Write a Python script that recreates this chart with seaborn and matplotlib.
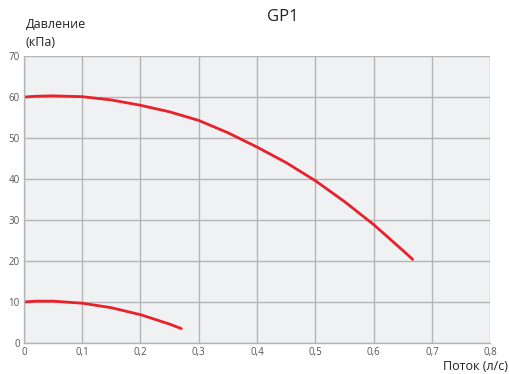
import matplotlib
matplotlib.use("Agg")
import matplotlib.pyplot as plt
import seaborn as sns
import pandas as pd

# curve data
flow_high = [0.0, 0.02, 0.05, 0.1, 0.15, 0.2, 0.25, 0.3, 0.35, 0.4, 0.45, 0.5, 0.55, 0.6, 0.65, 0.667]
press_high = [60.0, 60.2, 60.3, 60.1, 59.3, 58.0, 56.4, 54.3, 51.3, 47.8, 44.0, 39.6, 34.5, 28.9, 22.6, 20.4]
flow_low = [0.0, 0.02, 0.05, 0.1, 0.15, 0.2, 0.25, 0.27]
press_low = [10.0, 10.2, 10.2, 9.7, 8.6, 6.9, 4.6, 3.5]

x_ticks = [0, 0.1, 0.2, 0.3, 0.4, 0.5, 0.6, 0.7, 0.8]
x_labels = ["0", "0,1", "0,2", "0,3", "0,4", "0,5", "0,6", "0,7", "0,8"]
y_ticks = [0, 10, 20, 30, 40, 50, 60, 70]

sns.set_style("white")
plt.rcParams['font.family'] = ['Open Sans', 'DejaVu Sans']

df_high = pd.DataFrame({"flow": flow_high, "press": press_high})
df_low = pd.DataFrame({"flow": flow_low, "press": press_low})

fig = plt.figure(figsize=(5.09, 3.74), dpi=100)
ax = fig.add_axes([0.047, 0.083, 0.916, 0.767])
ax.set_facecolor("#f0f1f3")

for d in (df_high, df_low):
    sns.lineplot(data=d, x="flow", y="press", ax=ax, color="#e8212b", linewidth=2.0)

ax.set_xlim(0, 0.8)
ax.set_ylim(0, 70)
ax.set_xticks(x_ticks)
ax.set_xticklabels(x_labels)
ax.set_yticks(y_ticks)
ax.grid(True, color="#b4b4b4", linewidth=1.0)
ax.set_axisbelow(True)
ax.tick_params(length=0, labelsize=7, labelcolor="#555555", pad=3)
for s in ["top", "right"]:
    ax.spines[s].set_visible(False)
for s in ["left", "bottom"]:
    ax.spines[s].set_color("#b4b4b4")
    ax.spines[s].set_linewidth(1.0)
ax.set_xlabel("")
ax.set_ylabel("")

fig.text(0.556, 0.955, "GP1", ha="center", va="center", fontsize=12, color="#222222")
fig.text(0.05, 0.91, "Давление\n(кПа)", ha="left", va="center", fontsize=9, color="#222222", linespacing=1.5)
fig.text(0.998, 0.02, "Поток (л/с)", ha="right", va="center", fontsize=9, color="#222222")

fig.savefig("out.png", dpi=100)
